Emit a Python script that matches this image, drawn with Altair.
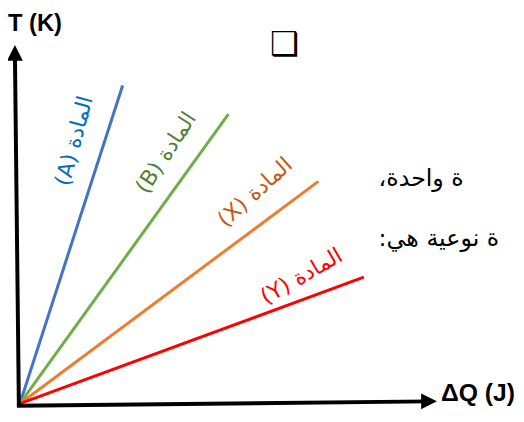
import altair as alt
import pandas as pd

# ---- data (arbitrary units: 1 unit = equal step on both axes) ----
series = ["A", "B", "X", "Y"]
end_dq = [26.0, 52.75, 75.5, 87.0]
end_t = [80.5, 73.25, 56.25, 32.0]
line_colors = ["#4472C4", "#70AD47", "#ED7D31", "#FF0000"]
label_colors = ["#0070C0", "#538135", "#C55A11", "#FF0000"]
labels = ["المادة (A)", "المادة (B)", "المادة (X)", "المادة (Y)"]
label_dq = [13.75, 37.0, 59.5, 71.25]
label_t = [66.5, 63.5, 53.5, 32.25]
label_angle = [285, 303, 318, 330]

# axes (slightly tilted like the scan)
yaxis_dq = [-0.25, -1.25]
yaxis_t = [-0.5, 88.5]
xaxis_dq = [-0.75, 103.5]
xaxis_t = [-0.5, 0.6]
arrow_dq = [-1.25, 103.5]
arrow_t = [88.75, 0.6]
arrow_shape = ["M0,-1L-1,1L1,1Z", "M1,0L-1,-1L-1,1Z"]

side_text = ["ة واحدة،", "ة نوعية هي:"]
side_dq = [90.75, 90.75]
side_t = [55.0, 40.0]


def rtl(s):
    # force right-to-left display inside the left-to-right SVG text
    return "\u202b" + s + "\u202c"


rows = []
for s, x1, y1 in zip(series, end_dq, end_t):
    rows.append({"s": s, "o": 0, "dq": 0.0, "t": 0.0})
    rows.append({"s": s, "o": 1, "dq": x1, "t": y1})
lines_df = pd.DataFrame(rows)

axes_rows = []
for i in range(2):
    axes_rows.append({"a": "y", "o": i, "dq": yaxis_dq[i], "t": yaxis_t[i]})
    axes_rows.append({"a": "x", "o": i, "dq": xaxis_dq[i], "t": xaxis_t[i]})
axes_df = pd.DataFrame(axes_rows)

xs = alt.Scale(domain=[-3, 125.5], nice=False, zero=False)
ys = alt.Scale(domain=[-2, 99.5], nice=False, zero=False)
X = lambda f="dq": alt.X(f + ":Q", scale=xs, axis=None)
Y = lambda f="t": alt.Y(f + ":Q", scale=ys, axis=None)

axes_layer = alt.Chart(axes_df).mark_line(color="black", strokeWidth=4, strokeCap="butt").encode(
    x=X(), y=Y(), detail="a:N", order="o:Q")

arrows = []
for dq, t, shp in zip(arrow_dq, arrow_t, arrow_shape):
    arrows.append(alt.Chart(pd.DataFrame({"dq": [dq], "t": [t]})).mark_point(
        shape=shp, size=256, filled=True, color="black", opacity=1, strokeWidth=0).encode(x=X(), y=Y()))

lines_layer = alt.Chart(lines_df).mark_line(strokeWidth=3, strokeCap="butt").encode(
    x=X(), y=Y(), order="o:Q",
    color=alt.Color("s:N", scale=alt.Scale(domain=series, range=line_colors), legend=None))

lab_df = pd.DataFrame({"label": [rtl(l) for l in labels], "dq": label_dq, "t": label_t,
                       "angle": label_angle, "c": label_colors})
lab_layer = alt.Chart(lab_df).mark_text(font="DejaVu Sans", fontSize=22, align="center",
                                        baseline="middle").encode(
    x=X(), y=Y(), text="label:N",
    angle=alt.Angle("angle:Q", scale=None),
    color=alt.Color("c:N", scale=None))

side_df = pd.DataFrame({"txt": [rtl(s) for s in side_text], "dq": side_dq, "t": side_t})
side_layer = alt.Chart(side_df).mark_text(font="DejaVu Sans", fontSize=24, align="left",
                                          baseline="alphabetic", color="black").encode(
    x=X(), y=Y(), text="txt:N")

t_title = alt.Chart(pd.DataFrame({"txt": ["T (K)"], "dq": [-3.0], "t": [94.25]})).mark_text(
    font="Liberation Sans", fontWeight="bold", fontSize=24, align="left",
    baseline="alphabetic", color="black").encode(x=X(), y=Y(), text="txt:N")
q_title = alt.Chart(pd.DataFrame({"txt": ["ΔQ (J)"], "dq": [106.5], "t": [0.6]})).mark_text(
    font="Liberation Sans", fontWeight="bold", fontSize=25, align="left",
    baseline="alphabetic", color="black").encode(x=X(), y=Y(), text="txt:N")

box_df = pd.DataFrame({"txt": ["❑"], "dq": [67.0], "t": [90.75]})
box_layer = alt.Chart(box_df).mark_text(font="DejaVu Sans", fontSize=33, fontWeight="bold",
                                        align="center", baseline="middle", color="black").encode(
    x=X(), y=Y(), text="txt:N")

chart = alt.layer(lines_layer, axes_layer, *arrows, lab_layer, side_layer, t_title, q_title,
                  box_layer).properties(
    width=514, height=406, autosize=alt.AutoSizeParams(type="none"), padding=0
).configure_view(stroke=None)

chart.save("out.html", embed_options={"renderer": "svg", "actions": False})
